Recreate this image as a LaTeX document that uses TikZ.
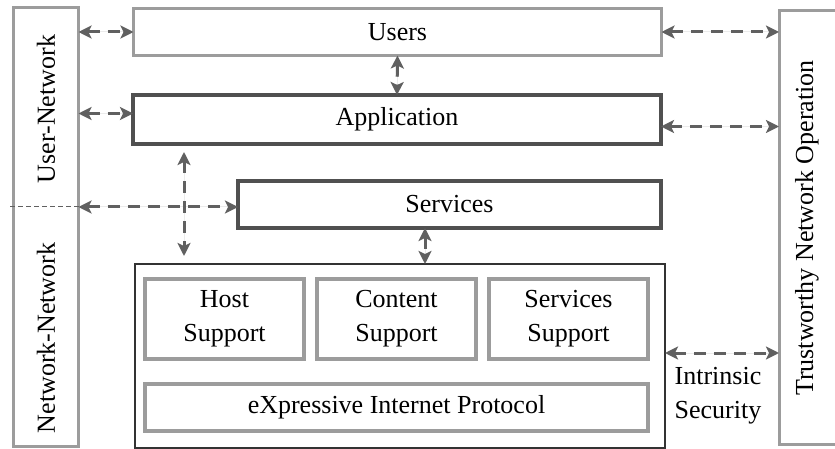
\documentclass[tikz,border=0pt]{standalone}
\usepackage{fontspec}
\setmainfont{Liberation Serif}
\usetikzlibrary{arrows.meta,positioning}

\definecolor{lightframe}{HTML}{9C9C9C}
\definecolor{darkframe}{HTML}{505050}
\definecolor{coreframe}{HTML}{333333}
\definecolor{linkgray}{HTML}{606060}

\begin{document}
\begin{tikzpicture}[x=1pt,y=-1pt,node distance=13pt,>={Stealth[length=13pt,width=13pt,inset=3pt]},
    font=\fontsize{26}{34}\selectfont]
    \tikzstyle{layer}=[rectangle,draw=lightframe,line width=3pt,inner sep=0pt,outer sep=0pt,align=center]
    \tikzstyle{strong}=[layer,draw=darkframe,line width=4pt]
    \tikzstyle{support}=[layer,line width=3.5pt,minimum width=159pt,minimum height=80pt]
    \tikzstyle{link}=[<->,draw=linkgray,fill=linkgray,line width=3pt,dash pattern=on 12pt off 8pt]

    \useasboundingbox (0,0) rectangle (835,449);
    \clip (0,0) rectangle (835,449);

    \begin{scope}
      % side columns
      \node [layer,minimum width=65pt,minimum height=438pt] at (46,227) (side) {};
      \node [rotate=90] at (46,109) (un) {User-Network};
      \node [rotate=90] at (46,338) (nn) {Network-Network};
      \node [layer,minimum width=72pt,minimum height=433pt] at (815,227.5) (trust) {};
      \node [rotate=90] at (807,228) (tno) {Trustworthy Network Operation};

      % layers
      \node [layer,minimum width=528pt,minimum height=47pt] at (397.5,32) (users) {Users};
      \node [strong,minimum width=528pt,minimum height=49pt] at (397,119.5) (app) {Application};
      \node [strong,minimum width=423pt,minimum height=47pt] at (449.5,204.5) (serv) {Services};

      \node [layer,draw=coreframe,line width=2pt,minimum width=530pt,minimum height=184pt] at (400,356) (core) {};
      \node [support] at (224.5,319) (host) {Host\\Support};
      \node [support,right=of host] (content) {Content\\Support};
      \node [support,right=of content] (ssup) {Services\\Support};
      \node [layer,line width=3.5pt,minimum width=503pt,minimum height=47pt] at (396.5,407.5) (xip) {eXpressive Internet Protocol};

      \node [align=center] at (718,396) (sec) {Intrinsic\\Security};

      \coordinate (cut) at (10,207);
      \coordinate (vx) at (184,0);
      \coordinate (sx) at (425,0);
      \coordinate (appL) at ([yshift=6pt]app.west);
      \coordinate (appR) at ([yshift=-7pt]app.east);
      \coordinate (secR) at ([yshift=3pt]core.east);

      \draw [linkgray,line width=1pt,dash pattern=on 5pt off 3pt] (cut) -- (cut -| side.east);

      % links
      \draw [link] (users.west -| side.east) -- (users.west);
      \draw [link] (appL -| side.east) -- (appL);
      \draw [link] (cut -| side.east) -- (cut -| serv.west);
      \draw [link,shorten <=8pt,shorten >=8pt] (app.south -| vx) -- (core.north -| vx);
      \draw [link] (users.south) -- (app.north);
      \draw [link] (serv.south -| sx) -- (core.north -| sx);
      \draw [link] (users.east) -- (users.east -| trust.west);
      \draw [link] (appR) -- (appR -| trust.west);
      \draw [link] (secR) -- (secR -| trust.west);
    \end{scope}

  \end{tikzpicture}
\end{document}
